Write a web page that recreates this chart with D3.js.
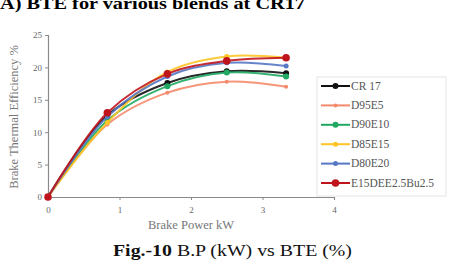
<!DOCTYPE html>
<html><head><meta charset="utf-8">
<script src="https://cdn.jsdelivr.net/npm/d3@7"></script>
<style>body{margin:0;background:#fff}svg{display:block}</style>
</head><body>
<svg id="c" width="451" height="264"></svg>
<script>
const brakePower = [0, 0.83, 1.67, 2.5, 3.33];
const seriesNames = ["CR 17", "D95E5", "D90E10", "D85E15", "D80E20", "E15DEE2.5Bu2.5"];
const cr17 = [0, 12.6, 17.6, 19.4, 19.1];
const d95e5 = [0, 11.2, 16.1, 17.8, 17.0];
const d90e10 = [0, 11.8, 17.1, 19.2, 18.6];
const d85e15 = [0, 11.5, 19.3, 21.7, 21.5];
const d80e20 = [0, 12.4, 18.6, 20.7, 20.2];
const e15 = [0, 13.0, 19.0, 21.0, 21.5];
const xTicks = [0, 1, 2, 3, 4];
const yTicks = [0, 5, 10, 15, 20, 25];

const colors = ["#111111", "#f4896b", "#1fa862", "#ffc425", "#5577c4", "#c0141c"];
const radii = [3, 2, 3, 2.5, 2.5, 3.8];
const values = [cr17, d95e5, d90e10, d85e15, d80e20, e15];

const svg = d3.select("#c");
const x = d3.scaleLinear().domain([0, 4]).range([48, 334]);
const y = d3.scaleLinear().domain([0, 25]).range([197, 35]);

// title (partially cut off at top, as in the reference)
svg.append("text").attr("x", 0).attr("y", 9)
  .attr("font-family", "Liberation Serif").attr("font-weight", "bold")
  .attr("font-size", 17).attr("textLength", 305).attr("lengthAdjust", "spacingAndGlyphs")
  .text("A) BTE for various blends at CR17");

const axisColor = "#8a8a8a";
const gx = svg.append("g").attr("transform", "translate(0,197)")
  .call(d3.axisBottom(x).tickValues(xTicks).tickSize(3).tickFormat(d3.format("d")));
const gy = svg.append("g").attr("transform", "translate(48,0)")
  .call(d3.axisLeft(y).tickValues(yTicks).tickSize(3).tickFormat(d3.format("d")));
[gx, gy].forEach(g => {
  g.select(".domain").attr("stroke", axisColor).attr("stroke-width", 1.2);
  g.selectAll(".tick line").attr("stroke", axisColor);
  g.selectAll(".tick text").attr("fill", "#666").attr("font-family", "Liberation Serif").attr("font-size", 9);
});
gx.selectAll(".tick text").attr("dy", "1.1em");

svg.append("text").attr("x", 191).attr("y", 229).attr("text-anchor", "middle")
  .attr("font-family", "Liberation Serif").attr("font-size", 12.5).attr("fill", "#777")
  .text("Brake Power kW");
svg.append("text").attr("transform", "translate(18,117) rotate(-90)").attr("text-anchor", "middle")
  .attr("font-family", "Liberation Serif").attr("font-size", 12.5).attr("fill", "#777")
  .text("Brake Thermal Efficiency %");

const line = d3.line().x((d, i) => x(brakePower[i])).y(d => y(d)).curve(d3.curveCatmullRom.alpha(0.5));
values.forEach((vals, s) => {
  svg.append("path").attr("d", line(vals)).attr("fill", "none")
    .attr("stroke", colors[s]).attr("stroke-width", 2).attr("stroke-opacity", 0.9);
  svg.append("g").selectAll("circle").data(vals).join("circle")
    .attr("cx", (d, i) => x(brakePower[i])).attr("cy", d => y(d))
    .attr("r", radii[s]).attr("fill", colors[s]);
});

// legend
const lg = svg.append("g");
lg.append("rect").attr("x", 317).attr("y", 77).attr("width", 129).attr("height", 119)
  .attr("fill", "#fff").attr("stroke", "#e4e4e4");
seriesNames.forEach((n, s) => {
  const yy = 86 + s * 19.4;
  lg.append("line").attr("x1", 321).attr("x2", 350).attr("y1", yy).attr("y2", yy)
    .attr("stroke", colors[s]).attr("stroke-width", 2);
  lg.append("circle").attr("cx", 335.5).attr("cy", yy).attr("r", radii[s]).attr("fill", colors[s]);
  lg.append("text").attr("x", 351).attr("y", yy + 3.5).attr("font-family", "Liberation Serif")
    .attr("font-size", 11.5).attr("fill", "#555").text(n);
});

// caption
const cap = svg.append("text").attr("x", 113).attr("y", 256)
  .attr("font-family", "Liberation Serif").attr("font-size", 16).attr("fill", "#111")
  .attr("textLength", 239).attr("lengthAdjust", "spacingAndGlyphs");
cap.append("tspan").attr("font-weight", "bold").text("Fig.-10");
cap.append("tspan").text(" B.P (kW) vs BTE (%)");
</script>
</body></html>
